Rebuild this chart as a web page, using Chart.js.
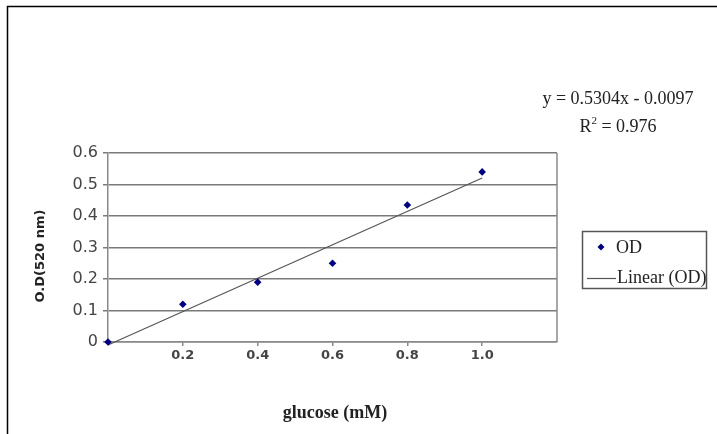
<!DOCTYPE html>
<html><head><meta charset="utf-8">
<script src="https://cdn.jsdelivr.net/npm/chart.js@4"></script>
<style>html,body{margin:0;padding:0;background:#fff;}#wrap{width:717px;height:434px;position:relative;}</style>
</head><body><div id="wrap"><canvas id="c" width="717" height="434"></canvas></div>
<script>
const glucose = [0, 0.2, 0.4, 0.6, 0.8, 1.0];
const odValues = [0, 0.12, 0.19, 0.25, 0.435, 0.54];
const trendX = [0, 1.0];
const trendY = [-0.0097, 0.5207];
const xTickValues = [0.2, 0.4, 0.6, 0.8, 1.0];
const yTickLabels = ['0', '0.1', '0.2', '0.3', '0.4', '0.5', '0.6'];
const equationText = 'y = 0.5304x - 0.0097';
const r2Parts = ['R', '2', ' = 0.976'];
const seriesLabels = ['OD', 'Linear (OD)'];
const xTitle = 'glucose (mM)';
const yTitle = 'O.D(520 nm)';

const deco = {
  id: 'deco',
  afterDraw(chart) {
    const ctx = chart.ctx, a = chart.chartArea;
    ctx.save();
    // outer frame
    ctx.strokeStyle = '#000'; ctx.lineWidth = 1.5;
    ctx.beginPath(); ctx.moveTo(7.5, 434); ctx.lineTo(7.5, 6.5); ctx.lineTo(717, 6.5); ctx.stroke();
    // plot right border
    ctx.strokeStyle = '#8a8a8a'; ctx.lineWidth = 1.5;
    ctx.beginPath(); ctx.moveTo(a.right, a.top); ctx.lineTo(a.right, a.bottom); ctx.stroke();
    // axis titles
    ctx.fillStyle = '#222';
    ctx.font = 'bold 18px "Liberation Serif", serif';
    ctx.textAlign = 'center'; ctx.textBaseline = 'middle';
    ctx.fillText(xTitle, 335, 413);
    ctx.save();
    ctx.translate(41, 256); ctx.rotate(-Math.PI / 2);
    ctx.font = 'bold 13px "DejaVu Sans", sans-serif';
    ctx.fillText(yTitle, 0, 0);
    ctx.restore();
    // equation
    ctx.font = '18px "Liberation Serif", serif';
    ctx.fillStyle = '#222';
    ctx.fillText(equationText, 618, 99);
    // R^2 line with superscript
    ctx.textAlign = 'left';
    const big = '18px "Liberation Serif", serif', small = '11px "Liberation Serif", serif';
    ctx.font = big; const wR = ctx.measureText(r2Parts[0]).width, wRest = ctx.measureText(r2Parts[2]).width;
    ctx.font = small; const w2 = ctx.measureText(r2Parts[1]).width;
    let x0 = 618 - (wR + w2 + wRest) / 2;
    ctx.font = big; ctx.fillText(r2Parts[0], x0, 127);
    ctx.font = small; ctx.fillText(r2Parts[1], x0 + wR, 121);
    ctx.font = big; ctx.fillText(r2Parts[2], x0 + wR + w2, 127);
    // legend
    ctx.strokeStyle = '#555'; ctx.lineWidth = 1.5;
    ctx.strokeRect(582.5, 231.5, 124, 57);
    ctx.fillStyle = '#000080';
    ctx.beginPath(); const dx = 601, dy = 247, r = 3.5;
    ctx.moveTo(dx, dy - r); ctx.lineTo(dx + r, dy); ctx.lineTo(dx, dy + r); ctx.lineTo(dx - r, dy); ctx.closePath(); ctx.fill();
    ctx.strokeStyle = '#555'; ctx.lineWidth = 1.2;
    ctx.beginPath(); ctx.moveTo(587, 278.5); ctx.lineTo(616, 278.5); ctx.stroke();
    ctx.fillStyle = '#222';
    ctx.font = '18px "Liberation Serif", serif';
    ctx.fillText(seriesLabels[0], 616, 248);
    ctx.fillText(seriesLabels[1], 617, 278);
    ctx.restore();
  }
};

new Chart(document.getElementById('c'), {
  type: 'scatter',
  data: {
    datasets: [
      {
        label: seriesLabels[0],
        data: glucose.map((x, i) => ({x: x, y: odValues[i]})),
        pointStyle: 'rectRot', pointRadius: 3.8,
        backgroundColor: '#000080', borderColor: '#000080', borderWidth: 0,
        order: 1, clip: false
      },
      {
        label: seriesLabels[1],
        type: 'line',
        data: trendX.map((x, i) => ({x: x, y: trendY[i]})),
        borderColor: '#555', borderWidth: 1.2, pointRadius: 0, fill: false,
        order: 2, clip: 4
      }
    ]
  },
  options: {
    responsive: false, animation: false, events: [],
    layout: {padding: {left: 0, top: 153, right: 160, bottom: 62}},
    plugins: {legend: {display: false}, tooltip: {enabled: false}},
    scales: {
      x: {
        type: 'linear', min: 0, max: 1.2,
        afterFit(s) { s.height = 30; },
        afterBuildTicks(s) { s.ticks = xTickValues.map(v => ({value: v})); },
        ticks: {
          callback: v => Number(v).toFixed(1),
          font: {family: '"DejaVu Sans", sans-serif', size: 13, weight: 'bold'},
          color: '#444', padding: 2, maxRotation: 0
        },
        grid: {drawOnChartArea: false, drawTicks: true, tickLength: 4, color: '#8a8a8a', lineWidth: 1.5},
        border: {color: '#8a8a8a', width: 1.5}
      },
      y: {
        min: 0, max: 0.6,
        afterFit(s) { s.width = 108; },
        afterBuildTicks(s) { s.ticks = yTickLabels.map(t => ({value: parseFloat(t)})); },
        ticks: {
          callback: (v, i) => yTickLabels[i],
          font: {family: '"DejaVu Sans", sans-serif', size: 16},
          color: '#444', padding: 5
        },
        grid: {color: '#7a7a7a', lineWidth: 1.5, drawTicks: true, tickLength: 5},
        border: {color: '#8a8a8a', width: 1.5}
      }
    }
  },
  plugins: [deco]
});
</script>
</body></html>
